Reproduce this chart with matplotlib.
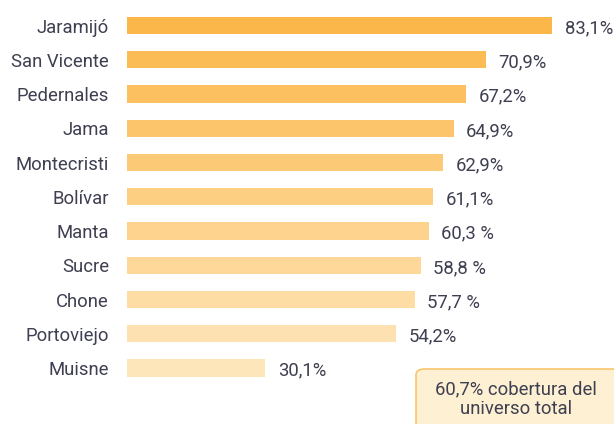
import matplotlib.pyplot as plt
import matplotlib.colors as mcolors
from matplotlib.patches import FancyBboxPatch
import numpy as np

plt.rcParams['font.family'] = ['Roboto', 'DejaVu Sans']

cantones = ['Jaramijó', 'San Vicente', 'Pedernales', 'Jama', 'Montecristi',
            'Bolívar', 'Manta', 'Sucre', 'Chone', 'Portoviejo', 'Muisne']
cobertura = [83.1, 70.9, 67.2, 64.9, 62.9, 61.1, 60.3, 58.8, 57.7, 54.2, 30.1]
etiquetas = ['83,1%', '70,9%', '67,2%', '64,9%', '62,9%', '61,1%',
             '60,3 %', '58,8 %', '57,7 %', '54,2%', '30,1%']
total_txt = '60,7% cobertura del\nuniverso total'

texto = '#3e3f50'
c_top = np.array(mcolors.to_rgb('#fbb74a'))
c_bot = np.array(mcolors.to_rgb('#fee6bb'))
fs = 13.3

fig = plt.figure(figsize=(6.14, 4.24), dpi=100)
ax = fig.add_axes([127 / 614, 0, 487 / 614, 1])

y = np.arange(len(cantones))
n = len(cantones)
colores = [c_top + (c_bot - c_top) * i / (n - 1) for i in range(n)]

x0 = 4.6
ax.barh(y, np.array(cobertura) - x0, left=x0, height=0.5, color=colores)
ax.set_xlim(x0, 94.5)
ax.set_ylim(11.635, -0.745)

ax.set_yticks(y)
ax.set_yticklabels(cantones, fontsize=fs, color=texto)
ax.tick_params(axis='y', length=0, pad=13)
ax.set_xticks([])
for s in ax.spines.values():
    s.set_visible(False)

for yi, v, t in zip(y, cobertura, etiquetas):
    ax.annotate(t, (v, yi), xytext=(9, -2), textcoords='offset points',
                va='center', ha='left', fontsize=fs, color=texto)

# recuadro con el total
box = FancyBboxPatch((416 / 614, -0.1), 0.5, (424 - 369) / 424 + 0.1,
                     boxstyle='round,pad=0,rounding_size=0.014',
                     transform=fig.transFigure, facecolor='#fef0d3',
                     edgecolor='#f9c56c', linewidth=1.2, clip_on=False)
fig.patches.append(box)
fig.text(516 / 614, 1 - 399 / 424, total_txt, ha='center', va='center',
         fontsize=fs, color=texto, linespacing=1.1)

fig.savefig('out.png', dpi=100)
